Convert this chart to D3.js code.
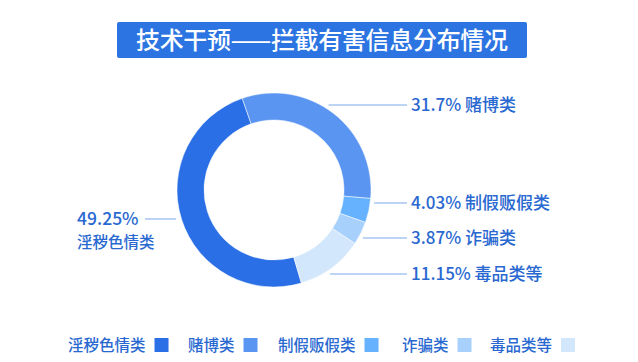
<!DOCTYPE html>
<html>
<head>
<meta charset="utf-8">
<script src="https://cdn.jsdelivr.net/npm/d3@7"></script>
<style>
  body { margin: 0; background: #fff; }
  text { font-family: "Noto Sans CJK SC", "Noto Sans", sans-serif; }
</style>
</head>
<body>
<div id="chart"></div>
<script>
// data
var categories = ["淫秽色情类", "赌博类", "制假贩假类", "诈骗类", "毒品类等"];
var values = [49.25, 31.7, 4.03, 3.87, 11.15];
var labels = ["49.25%", "31.7%", "4.03%", "3.87%", "11.15%"];
var colors = ["#2a6fe6", "#5b95f2", "#66b2ff", "#a7d0fc", "#d3e7fc"];
var title = "技术干预——拦截有害信息分布情况";

var width = 638, height = 362;
var cx = 274, cy = 190, outerR = 97, innerR = 70;
var textColor = "#2868d0", lineColor = "#7aa9ea";

var svg = d3.select("#chart").append("svg")
    .attr("width", width)
    .attr("height", height);

// title box
svg.append("rect")
    .attr("x", 117).attr("y", 22)
    .attr("width", 410).attr("height", 36)
    .attr("rx", 2)
    .attr("fill", "#2b74e2");
svg.append("text")
    .attr("x", 322).attr("y", 49)
    .attr("text-anchor", "middle")
    .attr("fill", "#fff")
    .attr("font-size", "24px")
    .attr("font-weight", 500)
    .attr("textLength", 372)
    .text(title);

// donut
var start = 163.6 * Math.PI / 180;
var pie = d3.pie().sort(null).startAngle(start).endAngle(start + 2 * Math.PI);
var arc = d3.arc().innerRadius(innerR).outerRadius(outerR);
var arcs = pie(values);

var g = svg.append("g").attr("transform", "translate(" + cx + "," + cy + ")");
g.selectAll("path")
    .data(arcs)
    .enter().append("path")
    .attr("d", arc)
    .attr("fill", function (d, i) { return colors[i]; })
    .attr("stroke", "#fff")
    .attr("stroke-width", 0.5);

// label placement (right side labels share a text x)
var labelPos = [
    {side: "left", y: 219},
    {side: "right", y: 105},
    {side: "right", y: 203},
    {side: "right", y: 238},
    {side: "right", y: 274}
];
var rightTextX = 411;

arcs.forEach(function (d, i) {
    var p = labelPos[i];
    if (p.side === "right") {
        var dy = p.y - cy;
        var r = outerR + 4;
        var x0 = cx + Math.sqrt(Math.max(r * r - dy * dy, 0));
        if (Math.abs(dy) > r) x0 = cx;
        svg.append("line")
            .attr("x1", x0).attr("y1", p.y)
            .attr("x2", rightTextX - 4).attr("y2", p.y)
            .attr("stroke", lineColor).attr("stroke-width", 1);
        svg.append("text")
            .attr("x", rightTextX).attr("y", p.y + 6)
            .attr("fill", textColor)
            .attr("font-size", "17px")
            .attr("font-weight", 500)
            .text(labels[i] + " " + categories[i]);
    } else {
        svg.append("line")
            .attr("x1", 145).attr("y1", p.y)
            .attr("x2", cx - outerR - 1).attr("y2", p.y)
            .attr("stroke", lineColor).attr("stroke-width", 1);
        svg.append("text")
            .attr("x", 77).attr("y", p.y + 6)
            .attr("fill", textColor)
            .attr("font-size", "17.5px")
            .attr("font-weight", 500)
            .text(labels[i]);
        svg.append("text")
            .attr("x", 77).attr("y", p.y + 29)
            .attr("fill", textColor)
            .attr("font-size", "15.5px")
            .attr("font-weight", 500)
            .text(categories[i]);
    }
});

// legend
var legendX = [68, 188, 278, 402, 490];
var legend = svg.append("g").attr("class", "legend");
categories.forEach(function (c, i) {
    var t = legend.append("text")
        .attr("x", legendX[i]).attr("y", 351)
        .attr("fill", textColor)
        .attr("font-size", "15.5px")
        .attr("font-weight", 500)
        .text(c);
    var w = t.node().getComputedTextLength();
    legend.append("rect")
        .attr("x", legendX[i] + w + 9).attr("y", 338)
        .attr("width", 14).attr("height", 14)
        .attr("fill", colors[i]);
});
</script>
</body>
</html>
